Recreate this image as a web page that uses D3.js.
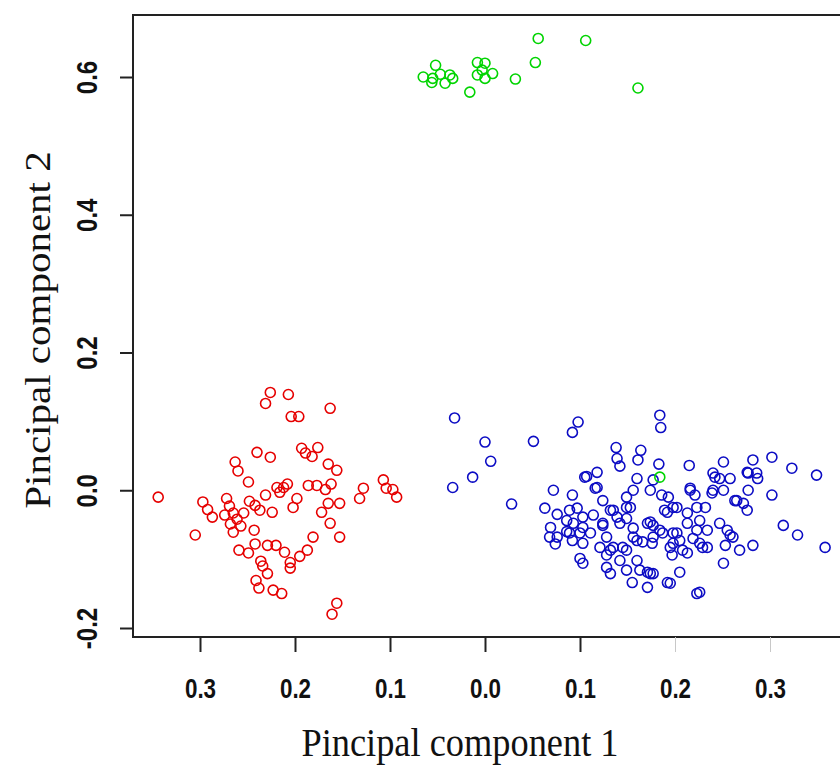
<!DOCTYPE html>
<html>
<head>
<meta charset="utf-8">
<script src="https://cdn.jsdelivr.net/npm/d3@7"></script>
<style>
body { margin: 0; background: #fff; }
</style>
</head>
<body>
<div id="vis"></div>
<script>
const FRAME_WIDTH = 840;
const FRAME_HEIGHT = 765;
const BOX = {left: 133, top: 15, bottom: 637};

const xTicks = [-0.3, -0.2, -0.1, 0.0, 0.1, 0.2, 0.3];
const xTickLabels = ["0.3", "0.2", "0.1", "0.0", "0.1", "0.2", "0.3"];
const yTicks = [-0.2, 0.0, 0.2, 0.4, 0.6];
const yTickLabels = ["-0.2", "0.0", "0.2", "0.4", "0.6"];
const xTitle = "Pincipal component 1";
const yTitle = "Pincipal component 2";

// [PC1, PC2] per group
const redPoints = [
  [-0.226,0.142],[-0.207,0.139],[-0.231,0.126],[-0.204,0.107],[-0.196,0.107],[-0.163,0.119],
  [-0.193,0.061],[-0.189,0.054],[-0.182,0.049],[-0.176,0.062],[-0.240,0.055],[-0.226,0.048],
  [-0.263,0.041],[-0.260,0.028],[-0.249,0.012],[-0.165,0.038],[-0.156,0.029],[-0.128,0.003],
  [-0.132,-0.012],[-0.107,0.015],[-0.104,0.003],[-0.097,0.001],[-0.093,-0.010],[-0.344,-0.010],
  [-0.297,-0.017],[-0.292,-0.028],[-0.287,-0.039],[-0.272,-0.012],[-0.269,-0.023],[-0.265,-0.033],
  [-0.261,-0.042],[-0.268,-0.049],[-0.257,-0.052],[-0.265,-0.061],[-0.248,-0.016],[-0.242,-0.022],
  [-0.237,-0.029],[-0.224,-0.032],[-0.219,0.004],[-0.212,0.004],[-0.208,0.009],[-0.216,-0.003],
  [-0.202,-0.025],[-0.186,0.007],[-0.177,0.007],[-0.168,0.001],[-0.162,0.009],[-0.165,-0.019],
  [-0.153,-0.019],[-0.172,-0.032],[-0.163,-0.048],[-0.305,-0.065],[-0.243,-0.058],[-0.181,-0.068],
  [-0.153,-0.068],[-0.259,-0.087],[-0.249,-0.091],[-0.242,-0.078],[-0.229,-0.080],[-0.220,-0.080],
  [-0.211,-0.090],[-0.205,-0.105],[-0.205,-0.113],[-0.195,-0.096],[-0.187,-0.087],[-0.236,-0.103],
  [-0.234,-0.110],[-0.229,-0.121],[-0.241,-0.131],[-0.238,-0.142],[-0.223,-0.145],[-0.214,-0.150],
  [-0.156,-0.164],[-0.161,-0.180],[-0.254,-0.033],[-0.274,-0.036],[-0.231,-0.007],[-0.198,-0.012]
];

const bluePoints = [
  [-0.032,0.105],[0.000,0.070],[0.006,0.042],[-0.013,0.019],[-0.034,0.004],[0.051,0.071],
  [0.092,0.084],[0.098,0.099],[0.028,-0.020],[0.184,0.109],[0.185,0.091],[0.138,0.062],
  [0.139,0.046],[0.142,0.035],[0.164,0.058],[0.161,0.044],[0.183,0.038],[0.215,0.036],
  [0.251,0.041],[0.282,0.044],[0.302,0.048],[0.323,0.032],[0.349,0.022],[0.118,0.026],
  [0.107,0.020],[0.118,0.004],[0.072,0.000],[0.092,-0.007],[0.063,-0.026],[0.076,-0.035],
  [0.089,-0.029],[0.103,-0.039],[0.069,-0.054],[0.068,-0.068],[0.074,-0.078],[0.086,-0.060],
  [0.092,-0.073],[0.100,-0.062],[0.111,-0.062],[0.103,-0.077],[0.100,-0.099],[0.128,-0.068],
  [0.114,-0.036],[0.124,-0.048],[0.135,-0.029],[0.142,-0.048],[0.149,-0.025],[0.156,0.000],
  [0.160,0.017],[0.174,0.000],[0.177,0.015],[0.193,-0.010],[0.198,-0.025],[0.189,-0.029],
  [0.171,-0.048],[0.177,-0.051],[0.184,-0.058],[0.160,-0.073],[0.166,-0.075],[0.198,-0.062],
  [0.198,-0.077],[0.205,-0.073],[0.213,-0.048],[0.216,0.000],[0.223,-0.025],[0.226,-0.044],
  [0.219,-0.070],[0.226,-0.077],[0.234,-0.083],[0.234,-0.058],[0.240,0.025],[0.247,0.017],
  [0.258,0.017],[0.240,0.000],[0.251,0.000],[0.265,-0.015],[0.272,-0.019],[0.277,0.000],
  [0.277,0.025],[0.286,0.025],[0.302,-0.007],[0.247,-0.048],[0.255,-0.058],[0.261,-0.068],
  [0.253,-0.080],[0.268,-0.087],[0.282,-0.080],[0.251,-0.106],[0.314,-0.051],[0.329,-0.065],
  [0.358,-0.083],[0.128,-0.094],[0.142,-0.102],[0.149,-0.116],[0.155,-0.134],[0.171,-0.119],
  [0.177,-0.121],[0.171,-0.141],[0.192,-0.134],[0.205,-0.119],[0.226,-0.148],[0.197,-0.094],
  [0.213,-0.091],[0.135,-0.083],[0.121,-0.083],[0.103,-0.106],[0.086,-0.044],[0.093,-0.048],
  [0.076,-0.068],[0.149,-0.041],[0.156,-0.055],[0.156,-0.068],[0.177,-0.068],[0.149,-0.087],
  [0.160,-0.102],[0.128,-0.112],[0.132,-0.121],[0.116,0.003],[0.124,-0.015],[0.149,-0.010],
  [0.153,-0.025],[0.132,-0.029],[0.139,-0.039],[0.124,-0.051],[0.103,-0.054],[0.089,-0.062],
  [0.174,-0.046],[0.192,-0.032],[0.202,-0.025],[0.213,-0.033],[0.187,-0.062],[0.202,-0.062],
  [0.223,-0.058],[0.195,-0.083],[0.208,-0.087],[0.176,-0.077],[0.145,-0.083],[0.132,-0.087],
  [0.163,-0.116],[0.174,-0.121],[0.195,-0.135],[0.223,-0.150],[0.242,0.019],[0.276,0.026],
  [0.287,0.017],[0.239,-0.004],[0.263,-0.015],[0.276,-0.029],[0.258,-0.065],[0.229,-0.083],
  [0.232,-0.025],[0.186,-0.007],[0.216,0.003],[0.221,-0.007],[0.105,0.019],[0.097,-0.026]
];

const greenPoints = [
  [-0.065,0.600],[-0.052,0.617],[-0.055,0.598],[-0.047,0.604],[-0.042,0.591],[-0.037,0.603],
  [-0.034,0.598],[-0.056,0.592],[-0.016,0.578],[-0.008,0.621],[0.000,0.620],[-0.008,0.603],
  [0.000,0.598],[0.008,0.605],[-0.003,0.610],[0.032,0.597],[0.053,0.621],[0.056,0.656],
  [0.106,0.653],[0.161,0.584],[0.184,0.019]
];

const groups = [
  {name: "red", color: "#e60000", points: redPoints},
  {name: "blue", color: "#0c0cc4", points: bluePoints},
  {name: "green", color: "#00d400", points: greenPoints}
];

const svg = d3.select("#vis")
  .append("svg")
    .attr("width", FRAME_WIDTH)
    .attr("height", FRAME_HEIGHT);

const xScale = d3.scaleLinear().domain([-0.3, 0.3]).range([200, 770]);
const yScale = d3.scaleLinear().domain([-0.2, 0.6]).range([628, 77]);

// points
groups.forEach(function (grp) {
  svg.append("g")
    .selectAll("circle")
    .data(grp.points)
    .enter()
    .append("circle")
      .attr("cx", d => xScale(d[0]))
      .attr("cy", d => yScale(d[1]))
      .attr("r", 5)
      .attr("fill", "none")
      .attr("stroke", grp.color)
      .attr("stroke-width", 1.6);
});

// plot box
svg.append("rect")
  .attr("x", BOX.left)
  .attr("y", BOX.top)
  .attr("width", 760)
  .attr("height", BOX.bottom - BOX.top)
  .attr("fill", "none")
  .attr("stroke", "#222")
  .attr("stroke-width", 2);

// x axis
const xAxis = svg.append("g")
  .attr("transform", "translate(0," + BOX.bottom + ")")
  .call(d3.axisBottom(xScale)
    .tickValues(xTicks)
    .tickFormat((d, i) => xTickLabels[i])
    .tickSize(15)
    .tickPadding(26));
xAxis.select(".domain").remove();
xAxis.selectAll(".tick line")
  .attr("stroke", d => d > 0.15 ? "#c8c8c8" : "#222")
  .attr("stroke-width", d => d > 0.15 ? 1 : 2);
xAxis.selectAll(".tick text")
  .attr("font-family", "Liberation Sans, Arial, sans-serif")
  .attr("font-size", 28)
  .attr("font-weight", "bold")
  .attr("fill", "#111")
  .attr("transform", "scale(0.8,1)");

// y axis
const yAxis = svg.append("g")
  .attr("transform", "translate(" + BOX.left + ",0)")
  .call(d3.axisLeft(yScale)
    .tickValues(yTicks)
    .tickFormat((d, i) => yTickLabels[i])
    .tickSize(13));
yAxis.select(".domain").remove();
yAxis.selectAll(".tick line")
  .attr("stroke", "#222")
  .attr("stroke-width", 2);
yAxis.selectAll(".tick text")
  .attr("x", null)
  .attr("dy", null)
  .attr("text-anchor", "middle")
  .attr("font-family", "Liberation Sans, Arial, sans-serif")
  .attr("font-size", 30)
  .attr("font-weight", "bold")
  .attr("fill", "#111")
  .attr("transform", "translate(-36,0) rotate(-90) scale(0.8,1)");

// axis titles
svg.append("text")
  .attr("transform", "translate(460,756) scale(0.887,1)")
  .attr("text-anchor", "middle")
  .attr("font-family", "Liberation Serif, Times New Roman, serif")
  .attr("font-size", 41)
  .attr("fill", "#111")
  .text(xTitle);

svg.append("text")
  .attr("transform", "translate(50,330) rotate(-90) scale(1,0.887)")
  .attr("text-anchor", "middle")
  .attr("font-family", "Liberation Serif, Times New Roman, serif")
  .attr("font-size", 41)
  .attr("fill", "#111")
  .text(yTitle);
</script>
</body>
</html>
